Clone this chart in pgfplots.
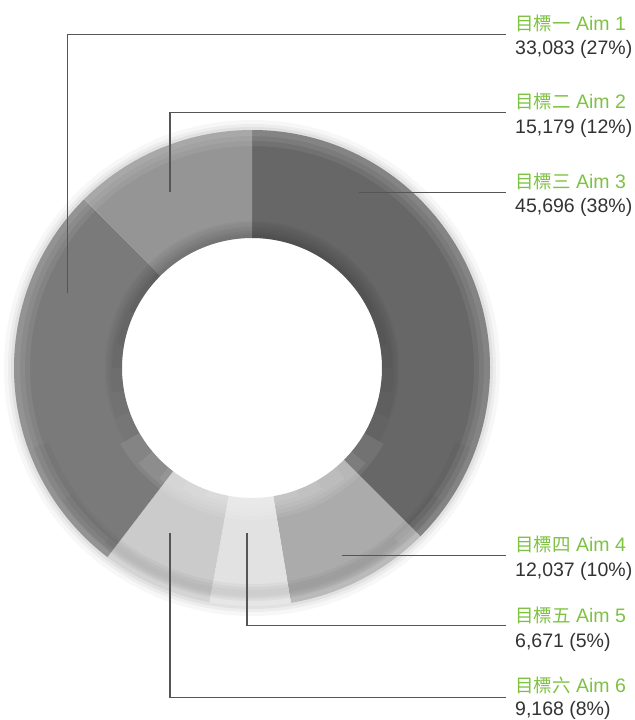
\documentclass[border=0pt]{standalone}
\usepackage{pgfplots}
\pgfplotsset{compat=1.18}
\usepackage{pgfplotstable}
\usepackage{fontspec}
\setmainfont{Liberation Sans}
\newfontfamily\cjk{Noto Sans CJK TC}
\definecolor{aimgreen}{HTML}{7DC242}
\definecolor{txt}{HTML}{333333}
\definecolor{leadc}{HTML}{555555}
\definecolor{c1}{HTML}{7A7A7A}
\definecolor{c2}{HTML}{959595}
\definecolor{c3}{HTML}{676767}
\definecolor{c4}{HTML}{ABABAB}
\definecolor{c5}{HTML}{E2E2E2}
\definecolor{c6}{HTML}{CBCBCB}

% clockwise from 12 o'clock
\pgfplotstableread{
aim value pct col
3 45696 38 c3
4 12037 10 c4
5 6671 5 c5
6 9168 8 c6
1 33083 27 c1
2 15179 12 c2
}\aims

\def\tot{0}
\pgfplotsforeachungrouped \i in {0,...,5}{%
  \pgfplotstablegetelem{\i}{value}\of\aims
  \xdef\tot{\fpeval{\tot+\pgfplotsretval}}%
}
\def\cum{0}
\pgfplotsforeachungrouped \i in {0,...,5}{%
  \xdef\tmpa{\fpeval{90-360*\cum/\tot}}%
  \pgfplotstablegetelem{\i}{value}\of\aims
  \xdef\cum{\fpeval{\cum+\pgfplotsretval}}%
  \xdef\tmpb{\fpeval{90-360*\cum/\tot}}%
  \expandafter\xdef\csname s\i\endcsname{\tmpa}%
  \expandafter\xdef\csname e\i\endcsname{\tmpb}%
  \pgfplotstablegetelem{\i}{col}\of\aims
  \expandafter\xdef\csname col\i\endcsname{\pgfplotsretval}%
}

\def\Ro{238bp}
\def\Ri{130bp}
\newcommand\lblfont{\fontsize{19.5bp}{23bp}\selectfont}
\newcommand\cjkfont{\cjk\fontsize{18.5bp}{23bp}\selectfont}
% ring band: #1 style, #2 start angle, #3 end angle, #4 r1, #5 r2
\newcommand\band[5]{\fill[#1] ([shift={(#2:#4)}]C) arc[start angle=#2, end angle=#3, radius=#4]
   -- ([shift={(#3:#5)}]C) arc[start angle=#3, end angle=#2, radius=#5] -- cycle;}

\begin{document}
\begin{tikzpicture}
\begin{axis}[scale only axis, width=635bp, height=720bp,
  xmin=0, xmax=635, ymin=0, ymax=720, y dir=reverse,
  enlargelimits=false, hide axis, clip=false]
\coordinate (C) at (axis cs:252,368);
% soft halo (ring only)
\fill[black, opacity=0.03, even odd rule] (C) circle[radius=248bp] (C) circle[radius=236bp];
\fill[black, opacity=0.04, even odd rule] (C) circle[radius=244bp] (C) circle[radius=236bp];
\fill[black, opacity=0.05, even odd rule] (C) circle[radius=241bp] (C) circle[radius=236bp];
% wedges
\pgfplotsinvokeforeach{0,...,5}{%
  \fill[\csname col#1\endcsname]
    ([shift={(\csname s#1\endcsname:\Ro)}]C)
    arc[start angle=\csname s#1\endcsname, end angle=\csname e#1\endcsname, radius=\Ro]
    -- ([shift={(\csname e#1\endcsname:\Ri)}]C)
    arc[start angle=\csname e#1\endcsname, end angle=\csname s#1\endcsname, radius=\Ri]
    -- cycle;
}
% outer bevel highlight (soft)
\fill[white, opacity=0.07, even odd rule] (C) circle[radius=238bp] (C) circle[radius=222bp];
\fill[white, opacity=0.07, even odd rule] (C) circle[radius=238bp] (C) circle[radius=227bp];
\fill[white, opacity=0.07, even odd rule] (C) circle[radius=238bp] (C) circle[radius=232bp];
% inner shadow (top), tapered
\band{black, opacity=0.03}{-30}{210}{130bp}{147bp}
\band{black, opacity=0.03}{-20}{200}{130bp}{145bp}
\band{black, opacity=0.03}{-10}{190}{130bp}{142bp}
\band{black, opacity=0.03}{0}{180}{130bp}{140bp}
\band{black, opacity=0.03}{10}{170}{130bp}{137bp}
\band{black, opacity=0.03}{25}{155}{130bp}{135bp}
\band{black, opacity=0.03}{40}{140}{130bp}{133bp}
% inner glow (bottom), tapered
\band{white, opacity=0.08}{210}{330}{130bp}{152bp}
\band{white, opacity=0.08}{220}{320}{130bp}{148bp}
\band{white, opacity=0.08}{230}{310}{130bp}{144bp}
\band{white, opacity=0.08}{240}{300}{130bp}{140bp}
\band{white, opacity=0.08}{250}{290}{130bp}{136bp}
% bottom outer depth band, tapered
\band{black, opacity=0.03}{200}{340}{216bp}{233bp}
\band{black, opacity=0.03}{215}{325}{219bp}{231bp}
\band{black, opacity=0.03}{230}{310}{222bp}{229bp}

% leader lines
\addplot[draw=leadc, line width=1.1bp, no markers] coordinates {(67.5,293) (67.5,34.5) (506,34.5)};
\addplot[draw=leadc, line width=1.1bp, no markers] coordinates {(170,191.5) (170,112.5) (506,112.5)};
\addplot[draw=leadc, line width=1.1bp, no markers] coordinates {(359,192.3) (506,192.3)};
\addplot[draw=leadc, line width=1.1bp, no markers] coordinates {(342,555.7) (506,555.7)};
\addplot[draw=leadc, line width=1.1bp, no markers] coordinates {(247,533) (247,625.5) (506,625.5)};
\addplot[draw=leadc, line width=1.1bp, no markers] coordinates {(170,533) (170,697.3) (506,697.3)};

% labels
\tikzset{gl/.style={anchor=base west, inner sep=0pt, text=aimgreen, font=\lblfont},
         nl/.style={anchor=base west, inner sep=0pt, text=txt, font=\lblfont}}
\node[gl] at (axis cs:515,30) {{\cjkfont 目標一} Aim 1};
\node[nl] at (axis cs:515,54.5) {33,083 (27\%)};
\node[gl] at (axis cs:515,108.5) {{\cjkfont 目標二} Aim 2};
\node[nl] at (axis cs:515,133) {15,179 (12\%)};
\node[gl] at (axis cs:515,188.3) {{\cjkfont 目標三} Aim 3};
\node[nl] at (axis cs:515,212.5) {45,696 (38\%)};
\node[gl] at (axis cs:515,551.7) {{\cjkfont 目標四} Aim 4};
\node[nl] at (axis cs:515,576) {12,037 (10\%)};
\node[gl] at (axis cs:515,622.5) {{\cjkfont 目標五} Aim 5};
\node[nl] at (axis cs:515,647) {6,671 (5\%)};
\node[gl] at (axis cs:515,692) {{\cjkfont 目標六} Aim 6};
\node[nl] at (axis cs:515,715.5) {9,168 (8\%)};
\end{axis}
\pgfresetboundingbox
\useasboundingbox (0,0) rectangle (635bp,720bp);
\end{tikzpicture}
\end{document}
